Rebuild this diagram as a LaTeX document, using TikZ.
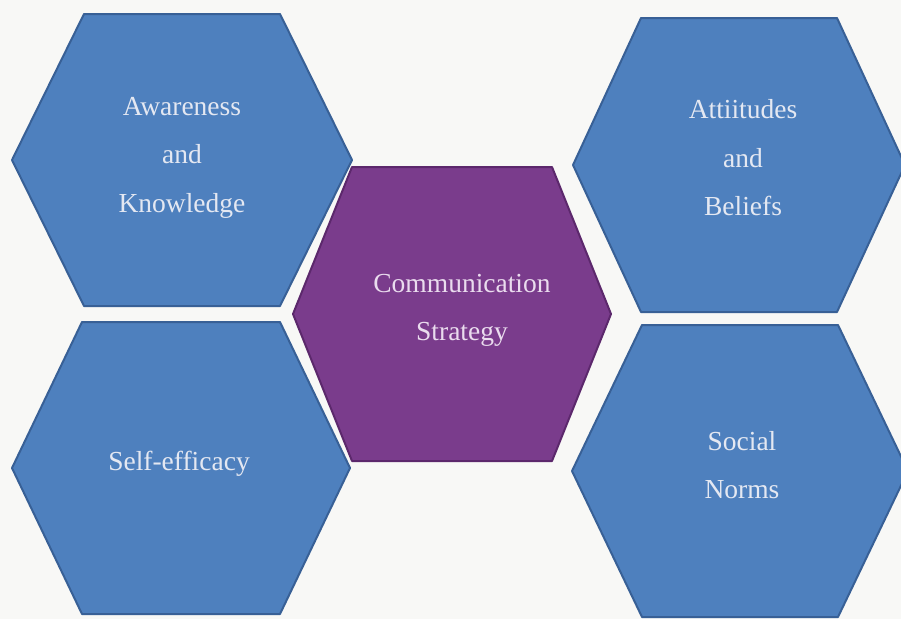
\documentclass[tikz,border=0pt]{standalone}
\usepackage{fontspec}
\setmainfont{Liberation Serif}
\definecolor{hexblue}{RGB}{78,128,190}
\definecolor{hexblueedge}{RGB}{56,96,150}
\definecolor{hexpurple}{RGB}{122,60,140}
\definecolor{hexpurpleedge}{RGB}{92,40,108}
\definecolor{paper}{RGB}{248,248,246}
\definecolor{txtblue}{RGB}{228,232,242}
\definecolor{txtpurple}{RGB}{234,220,238}
\newcommand\hexshape[6]{%
  \path[#6] ({#1-#3},#2) -- ({#1-#4},{#2-#5}) -- ({#1+#4},{#2-#5}) -- ({#1+#3},#2)
    -- ({#1+#4},{#2+#5}) -- ({#1-#4},{#2+#5}) -- cycle;}
\tikzset{
  bluehex/.style={fill=hexblue, draw=hexblueedge, line width=2pt, line join=round},
  purplehex/.style={fill=hexpurple, draw=hexpurpleedge, line width=2pt, line join=round},
  bluetxt/.style={text=txtblue, anchor=base, inner sep=0pt, font=\fontsize{27.5}{33}\selectfont},
  purpletxt/.style={text=txtpurple, anchor=base, inner sep=0pt, font=\fontsize{27.5}{33}\selectfont},
}
\begin{document}
\begin{tikzpicture}[x=1pt,y=-1pt]
\path[use as bounding box, fill=paper] (0,0) rectangle (901,619);
\clip (0,0) rectangle (901,619);
% hexagons
\hexshape{182}{160}{170}{98}{146}{bluehex}
\hexshape{181}{468}{169}{99}{146}{bluehex}
\hexshape{739}{165}{166}{98}{147}{bluehex}
\hexshape{740}{471}{168}{98}{146}{bluehex}
\hexshape{452}{314}{159}{100}{147}{purplehex}
% texts
\node[bluetxt] (ak1) at (182,115) {Awareness};
\node[bluetxt] (ak2) at (182,163) {and};
\node[bluetxt] (ak3) at (182,212) {Knowledge};
\node[bluetxt] (ab1) at (743,118) {Attiitudes};
\node[bluetxt] (ab2) at (743,167) {and};
\node[bluetxt] (ab3) at (743,215) {Beliefs};
\node[purpletxt] (cs1) at (462,292) {Communication};
\node[purpletxt] (cs2) at (462,340) {Strategy};
\node[bluetxt] (se) at (179,470) {Self-efficacy};
\node[bluetxt] (sn1) at (742,450) {Social};
\node[bluetxt] (sn2) at (742,498) {Norms};
\end{tikzpicture}
\end{document}
